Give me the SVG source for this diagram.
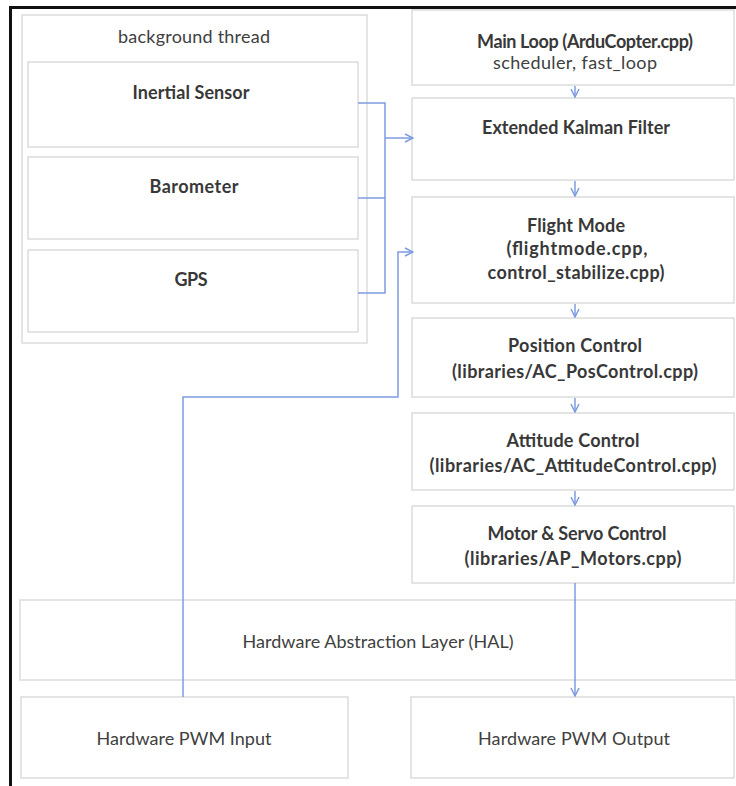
<svg xmlns="http://www.w3.org/2000/svg" width="736" height="786" viewBox="0 0 736 786">
<style>
.box{fill:#fff;stroke:#dcdcdc;stroke-width:1.5}
.t{font-family:Lato,"Open Sans","Liberation Sans",sans-serif;font-size:18px;fill:#404040;text-anchor:middle}
.b{font-weight:bold;fill:#383838}
.c{fill:none;stroke:#7f9be0;stroke-width:1.5}
</style>
<defs>
<marker id="ah" viewBox="0 0 10 10" refX="9" refY="5" markerWidth="10" markerHeight="10" markerUnits="userSpaceOnUse" orient="auto">
<path d="M1,1 L9,5 L1,9" fill="none" stroke="#7f9be0" stroke-width="1.5"/>
</marker>
</defs>
<rect width="736" height="786" fill="#fff"/>
<path d="M10.5,786 V7.5 H736" fill="none" stroke="#111" stroke-width="3"/>
<g id="bg-thread">
<rect class="box" x="22" y="15" width="345" height="328"/>
<text class="t" x="194" y="43" textLength="152">background thread</text>
</g>
<g id="inertial">
<rect class="box" x="28" y="62" width="330" height="85"/>
<text class="t b" x="191" y="99" textLength="117">Inertial Sensor</text>
</g>
<g id="barometer">
<rect class="box" x="28" y="157" width="330" height="82"/>
<text class="t b" x="194" y="193" textLength="89">Barometer</text>
</g>
<g id="gps">
<rect class="box" x="28" y="250" width="330" height="82"/>
<text class="t b" x="191" y="286" textLength="33">GPS</text>
</g>
<g id="mainloop">
<rect class="box" x="412" y="10" width="322" height="75"/>
<text class="t b" x="585" y="48" textLength="216">Main Loop (ArduCopter.cpp)</text>
<text class="t" x="575" y="69" textLength="164">scheduler, fast_loop</text>
</g>
<g id="ekf">
<rect class="box" x="412" y="98" width="322" height="82"/>
<text class="t b" x="576" y="134" textLength="188">Extended Kalman Filter</text>
</g>
<g id="flightmode">
<rect class="box" x="412" y="197" width="322" height="106"/>
<text class="t b" x="576" y="232" textLength="98">Flight Mode</text>
<text class="t b" x="577" y="255" textLength="141">(flightmode.cpp,</text>
<text class="t b" x="576" y="279" textLength="177">control_stabilize.cpp)</text>
</g>
<g id="poscontrol">
<rect class="box" x="412" y="318" width="322" height="79"/>
<text class="t b" x="575" y="352" textLength="134">Position Control</text>
<text class="t b" x="575" y="378" textLength="246">(libraries/AC_PosControl.cpp)</text>
</g>
<g id="attcontrol">
<rect class="box" x="412" y="413" width="322" height="77"/>
<text class="t b" x="573" y="447" textLength="133">Attitude Control</text>
<text class="t b" x="573" y="472" textLength="287">(libraries/AC_AttitudeControl.cpp)</text>
</g>
<g id="motor">
<rect class="box" x="412" y="506" width="322" height="77"/>
<text class="t b" x="577" y="540" textLength="179">Motor &amp; Servo Control</text>
<text class="t b" x="573" y="565" textLength="217">(libraries/AP_Motors.cpp)</text>
</g>
<g id="hal">
<rect class="box" x="20" y="600" width="716" height="80"/>
<text class="t" x="378" y="648" textLength="271">Hardware Abstraction Layer (HAL)</text>
</g>
<g id="pwmin">
<rect class="box" x="21" y="697" width="327" height="81"/>
<text class="t" x="184" y="745" textLength="175">Hardware PWM Input</text>
</g>
<g id="pwmout">
<rect class="box" x="411" y="697" width="323" height="81"/>
<text class="t" x="574" y="745" textLength="192">Hardware PWM Output</text>
</g>
<g id="connectors">
<path class="c" d="M358,103 H385 V293 H358"/>
<path class="c" d="M358,198 H385"/>
<path class="c" d="M385,138 H413" marker-end="url(#ah)"/>
<path class="c" d="M183,697 V397 H398 V252 H413" marker-end="url(#ah)"/>
<path class="c" d="M575,583 V696" marker-end="url(#ah)"/>
<path class="c" d="M575,86 V97" marker-end="url(#ah)"/>
<path class="c" d="M575,181 V196" marker-end="url(#ah)"/>
<path class="c" d="M575,304 V317" marker-end="url(#ah)"/>
<path class="c" d="M575,398 V412" marker-end="url(#ah)"/>
<path class="c" d="M575,491 V505" marker-end="url(#ah)"/>
</g>
</svg>
